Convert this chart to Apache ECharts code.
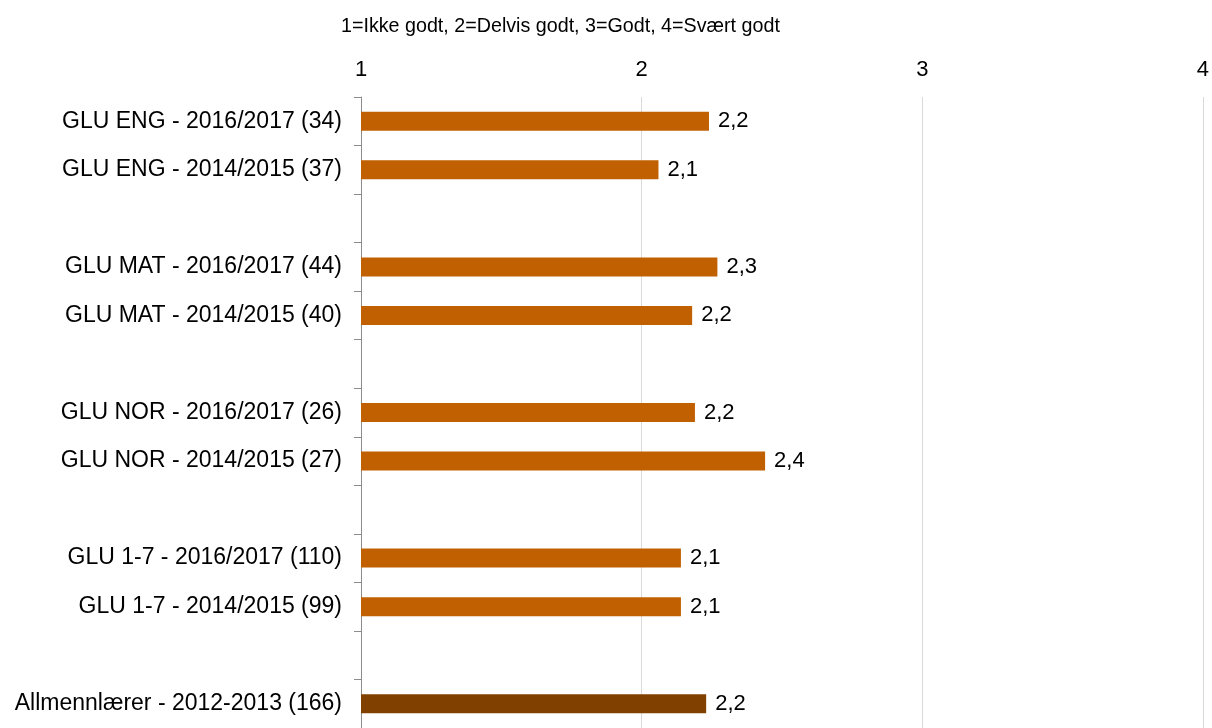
<!DOCTYPE html>
<html>
<head>
<meta charset="utf-8">
<script src="https://cdn.jsdelivr.net/npm/echarts@6/dist/echarts.min.js"></script>
<style>html,body{margin:0;padding:0;background:#fff}#c{width:1212px;height:728px}</style>
</head>
<body>
<div id="c"></div>
<script>
const categories = [
  'GLU ENG - 2016/2017 (34)',
  'GLU ENG - 2014/2015 (37)',
  '',
  'GLU MAT - 2016/2017 (44)',
  'GLU MAT - 2014/2015 (40)',
  ' ',
  'GLU NOR - 2016/2017 (26)',
  'GLU NOR - 2014/2015 (27)',
  '  ',
  'GLU 1-7 - 2016/2017 (110)',
  'GLU 1-7 - 2014/2015 (99)',
  '   ',
  'Allmennlærer - 2012-2013 (166)'
];
const values = [2.24, 2.06, null, 2.27, 2.18, null, 2.19, 2.44, null, 2.14, 2.14, null, 2.23];
const highlightIndex = [12];
const xTicks = [1, 2, 3, 4];
const titleText = '1=Ikke godt, 2=Delvis godt, 3=Godt, 4=Svært godt';

const chart = echarts.init(document.getElementById('c'));
const font = 'Liberation Sans, Arial, sans-serif';
chart.setOption({
  animation: false,
  title: {
    text: titleText, left: 336, top: 12,
    textStyle: { fontFamily: font, fontSize: 19.7, fontWeight: 'normal', color: '#000' }
  },
  grid: { left: 361, right: 9, top: 97, height: 633, containLabel: false },
  xAxis: {
    type: 'value', position: 'top', min: xTicks[0], max: xTicks[xTicks.length - 1], interval: 1,
    axisLine: { show: false }, axisTick: { show: false },
    splitLine: { show: true, lineStyle: { color: '#d9d9d9', width: 1 } },
    axisLabel: { fontFamily: font, fontSize: 22, color: '#000', margin: 16 }
  },
  yAxis: {
    type: 'category', inverse: true, data: categories,
    axisLine: { show: true, lineStyle: { color: '#8c8c8c', width: 1 } },
    axisTick: { show: true, length: 7, lineStyle: { color: '#8c8c8c' } },
    axisLabel: { fontFamily: font, fontSize: 23, color: '#000', margin: 19 }
  },
  series: [{
    type: 'bar',
    barWidth: 19,
    data: values.map((v, i) => v === null ? '-' : {
      value: v,
      itemStyle: { color: highlightIndex.includes(i) ? '#804000' : '#c06000' }
    }),
    label: {
      show: true, position: 'right', distance: 9,
      fontFamily: font, fontSize: 22, color: '#000',
      formatter: p => p.value.toFixed(1).replace('.', ',')
    }
  }]
});
</script>
</body>
</html>
